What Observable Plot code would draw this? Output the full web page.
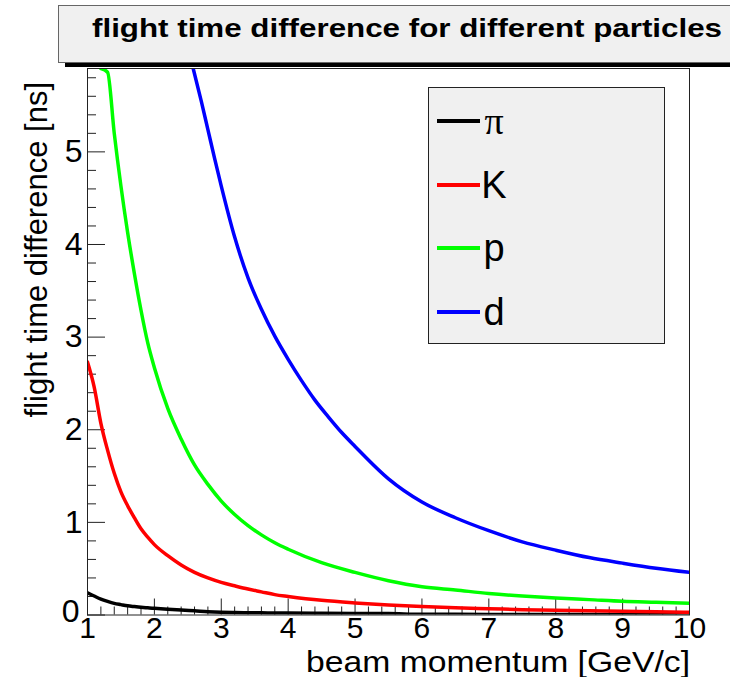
<!DOCTYPE html>
<html>
<head>
<meta charset="utf-8">
<script src="https://cdn.jsdelivr.net/npm/d3@7"></script>
<script src="https://cdn.jsdelivr.net/npm/@observablehq/plot@0.6"></script>
<style>
  html, body { margin: 0; padding: 0; background: #fff; overflow: hidden; }
  #chart { position: relative; width: 730px; height: 677px; }
  svg { font-family: "Liberation Sans", Arial, Helvetica, sans-serif; }
</style>
</head>
<body>
<div id="chart"></div>
<script>
// ---- data ----
const title = "flight time difference for different particles";
const xLabel = "beam momentum [GeV/c]";
const yLabel = "flight time difference [ns]";

const particles = ["π", "K", "p", "d"];
const colors = ["#000000", "#ff0000", "#00ff00", "#0000ff"];

const momentumPiK = [1, 1.1, 1.2, 1.3, 1.4, 1.5, 1.6, 1.7, 1.8, 1.9, 2, 2.2, 2.4, 2.6, 2.8, 3, 3.2, 3.4, 3.6, 3.8, 4, 4.5, 5, 5.5, 6, 6.5, 7, 7.5, 8, 8.5, 9, 9.5, 10];
const pion = [0.24, 0.205, 0.172, 0.147, 0.126, 0.112, 0.099, 0.091, 0.084, 0.077, 0.072, 0.062, 0.053, 0.045, 0.036, 0.030, 0.027, 0.025, 0.023, 0.022, 0.021, 0.019, 0.017, 0.015, 0.008, 0.007, 0.006, 0.005, 0.005, 0.005, 0.004, 0.004, 0.004];
const kaon = [2.73, 2.46, 2.07, 1.78, 1.53, 1.33, 1.18, 1.05, 0.93, 0.84, 0.76, 0.64, 0.54, 0.46, 0.40, 0.352, 0.315, 0.28, 0.25, 0.22, 0.20, 0.158, 0.13, 0.108, 0.092, 0.078, 0.068, 0.058, 0.05, 0.045, 0.04, 0.035, 0.03];

const momentumP = [1.2, 1.3, 1.4, 1.5, 1.6, 1.7, 1.8, 1.9, 2, 2.2, 2.4, 2.6, 2.8, 3, 3.2, 3.4, 3.6, 3.8, 4, 4.5, 5, 5.5, 6, 6.5, 7, 7.5, 8, 8.5, 9, 9.5, 10];
const proton = [5.9, 5.86, 5.2, 4.63, 4.13, 3.69, 3.29, 2.94, 2.67, 2.23, 1.90, 1.62, 1.41, 1.23, 1.085, 0.965, 0.865, 0.78, 0.71, 0.565, 0.46, 0.37, 0.305, 0.27, 0.233, 0.205, 0.183, 0.166, 0.148, 0.137, 0.126];

const momentumD = [2.58, 2.7, 2.8, 2.9, 3, 3.2, 3.4, 3.6, 3.8, 4, 4.2, 4.4, 4.6, 4.8, 5, 5.5, 6, 6.5, 7, 7.5, 8, 8.5, 9, 9.5, 10];
const deuteron = [5.9, 5.55, 5.24, 4.93, 4.63, 4.08, 3.64, 3.30, 3.01, 2.76, 2.53, 2.32, 2.14, 1.97, 1.82, 1.47, 1.22, 1.05, 0.91, 0.79, 0.70, 0.62, 0.56, 0.505, 0.46];

const xMajorTicks = [1, 2, 3, 4, 5, 6, 7, 8, 9, 10];
const yMajorTicks = [0, 1, 2, 3, 4, 5];
const xMinorTicks = [1.2, 1.4, 1.6, 1.8, 2.2, 2.4, 2.6, 2.8, 3.2, 3.4, 3.6, 3.8, 4.2, 4.4, 4.6, 4.8, 5.2, 5.4, 5.6, 5.8, 6.2, 6.4, 6.6, 6.8, 7.2, 7.4, 7.6, 7.8, 8.2, 8.4, 8.6, 8.8, 9.2, 9.4, 9.6, 9.8];
const yMinorTicks = [0.2, 0.4, 0.6, 0.8, 1.2, 1.4, 1.6, 1.8, 2.2, 2.4, 2.6, 2.8, 3.2, 3.4, 3.6, 3.8, 4.2, 4.4, 4.6, 4.8, 5.2, 5.4, 5.6, 5.8];

// ---- build table ----
const seriesDefs = [
  {name: particles[0], xs: momentumPiK, ys: pion},
  {name: particles[1], xs: momentumPiK, ys: kaon},
  {name: particles[2], xs: momentumP, ys: proton},
  {name: particles[3], xs: momentumD, ys: deuteron}
];
const rows = seriesDefs.flatMap(s => s.xs.map((x, i) => ({particle: s.name, p: x, dt: s.ys[i]})));

const W = 730, H = 677;
const mL = 87, mR = 41, mT = 68, mB = 62.5;
const plotW = W - mL - mR, plotH = H - mT - mB;

const chart = Plot.plot({
  width: W, height: H,
  marginLeft: mL, marginRight: mR, marginTop: mT, marginBottom: mB,
  x: {domain: [1, 10]},
  y: {domain: [0, 5.9]},
  color: {domain: particles, range: colors},
  style: {fontFamily: "Liberation Sans, Arial, sans-serif", background: "white", color: "#000"},
  marks: [
    // ROOT-style inward ticks
    Plot.tickY(yMinorTicks, {y: d => d, insetRight: plotW - 9, stroke: "#222"}),
    Plot.tickY(yMajorTicks, {y: d => d, insetRight: plotW - 18, stroke: "#222"}),
    Plot.tickX(xMinorTicks, {x: d => d, insetTop: plotH - 8, stroke: "#222"}),
    Plot.tickX(xMajorTicks, {x: d => d, insetTop: plotH - 16, stroke: "#222"}),
    Plot.axisY(yMajorTicks.filter(d => d !== 0), {tickSize: 0, tickPadding: 5, fontSize: 32, label: null, tickFormat: d => String(d)}),
    Plot.axisY(yMajorTicks.filter(d => d === 0), {tickSize: 0, tickPadding: 8, dy: -3, fontSize: 32, label: null, tickFormat: d => String(d)}),
    Plot.axisX(xMajorTicks, {tickSize: 0, tickPadding: 2, fontSize: 30, label: null, tickFormat: d => String(d)}),
    Plot.line(rows, {x: "p", y: "dt", z: "particle", stroke: "particle", strokeWidth: 3.5, clip: true, curve: "monotone-x", strokeLinejoin: "round"}),
    Plot.frame({stroke: "#222", strokeWidth: 1})
  ]
});

document.getElementById("chart").appendChild(chart);

const svg = d3.select(chart);

// ---- axis titles (ROOT places them at the axis end) ----
svg.append("text").attr("transform", "translate(47,82) rotate(-90)")
  .attr("text-anchor", "end").attr("font-size", 31).attr("fill", "#000").text(yLabel);
svg.append("text").attr("x", 690).attr("y", 672).attr("text-anchor", "end")
  .attr("font-size", 30).attr("fill", "#000")
  .attr("textLength", 384).attr("lengthAdjust", "spacingAndGlyphs").text(xLabel);

// ---- title box (ROOT pave with shadow) ----
const titleG = svg.append("g");
titleG.append("rect").attr("x", 65).attr("y", 9).attr("width", 700).attr("height", 58).attr("fill", "#000");
titleG.append("rect").attr("x", 58.5).attr("y", 5.5).attr("width", 700).attr("height", 57)
  .attr("fill", "#f0f0f0").attr("stroke", "#666").attr("stroke-width", 1);
titleG.append("text").attr("x", 407).attr("y", 37).attr("text-anchor", "middle")
  .attr("font-size", 26).attr("font-weight", "bold").attr("fill", "#000")
  .attr("textLength", 630).attr("lengthAdjust", "spacingAndGlyphs").text(title);

// ---- legend ----
const leg = svg.append("g");
leg.append("rect").attr("x", 428.5).attr("y", 87.5).attr("width", 236).attr("height", 256)
  .attr("fill", "#f0f0f0").attr("stroke", "#222").attr("stroke-width", 1);
const legendY = [121, 185, 248, 312];
particles.forEach((name, i) => {
  leg.append("line").attr("x1", 437).attr("x2", 480).attr("y1", legendY[i]).attr("y2", legendY[i])
    .attr("stroke", colors[i]).attr("stroke-width", 4);
  leg.append("text").attr("x", 494).attr("y", legendY[i] + 13)
    .attr("font-size", 38).attr("fill", "#000")
    .attr("font-family", i === 0 ? "Liberation Serif, DejaVu Serif, serif" : null)
    .text(name);
});
</script>
</body>
</html>
